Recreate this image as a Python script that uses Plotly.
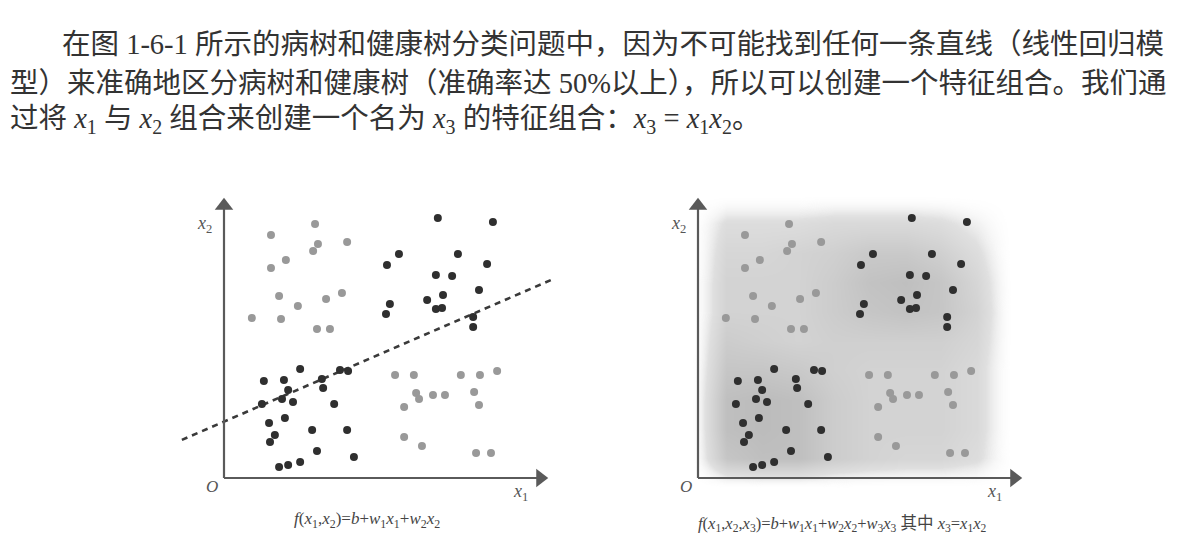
import plotly.graph_objects as go

# ---------------- data (axis units: x1 0..10, x2 0..10) ----------------
dark_x = [6.60, 8.30, 5.40, 7.22, 5.03, 8.12, 6.54, 7.04, 7.87, 6.76, 6.27, 5.12, 6.54, 6.73, 5.00, 7.69, 7.69,
          2.35, 3.58, 3.83, 1.23, 1.85, 3.02, 3.06, 1.98, 1.79, 2.13, 1.17, 3.40, 1.88, 1.39, 2.72, 3.80,
          1.57, 1.42, 2.87, 4.01, 1.70, 1.98, 2.35]
dark_y = [9.29, 9.14, 8.00, 8.00, 7.61, 7.64, 7.25, 7.21, 6.71, 6.54, 6.36, 6.21, 6.04, 6.07, 5.86, 5.75, 5.39,
          3.89, 3.86, 3.82, 3.46, 3.50, 3.54, 3.21, 3.14, 2.82, 2.71, 2.64, 2.64, 2.14, 1.96, 1.71, 1.71,
          1.54, 1.29, 0.96, 0.75, 0.39, 0.46, 0.57]
light_x = [2.81, 1.45, 2.90, 2.75, 3.80, 1.91, 1.45, 1.70, 3.15, 3.64, 2.28, 0.86, 1.76, 2.87, 3.27,
           5.28, 5.86, 7.31, 7.90, 8.43, 5.93, 6.02, 6.45, 6.82, 7.72, 7.87, 5.56, 5.56, 6.11, 7.78, 8.24]
light_y = [9.07, 8.68, 8.36, 8.11, 8.43, 7.79, 7.50, 6.50, 6.39, 6.61, 6.14, 5.71, 5.68, 5.32, 5.32,
           3.68, 3.68, 3.68, 3.68, 3.82, 3.04, 2.82, 2.96, 2.96, 3.07, 2.61, 2.54, 1.46, 1.14, 0.89, 0.89]
# linear boundary in the left panel
line_x = [-1.30, 10.09]
line_y = [1.36, 7.07]

# shaded background of the right panel (darkness 0..1)
shade_x = [-0.2, 0.9, 2.0, 3.1, 4.2, 5.3, 6.4, 7.5, 8.6, 9.7, 10.8]
shade_y = [-0.35, 0.7, 1.75, 2.8, 3.85, 4.9, 5.95, 7.0, 8.05, 9.1, 10.15]
shade_z = [
    [0, 0.00, 0.00, 0.00, 0.00, 0.00, 0.00, 0.00, 0.00, 0, 0],
    [0, 0.70, 0.80, 0.80, 0.60, 0.50, 0.45, 0.45, 0.35, 0, 0],
    [0, 0.80, 0.85, 0.80, 0.60, 0.50, 0.50, 0.50, 0.40, 0, 0],
    [0, 0.80, 0.85, 0.80, 0.60, 0.50, 0.50, 0.50, 0.40, 0, 0],
    [0, 0.70, 0.70, 0.65, 0.55, 0.50, 0.50, 0.50, 0.40, 0, 0],
    [0, 0.60, 0.55, 0.50, 0.55, 0.55, 0.55, 0.55, 0.45, 0, 0],
    [0, 0.50, 0.50, 0.50, 0.60, 0.70, 0.75, 0.70, 0.50, 0, 0],
    [0, 0.50, 0.50, 0.50, 0.60, 0.75, 0.80, 0.70, 0.45, 0, 0],
    [0, 0.45, 0.45, 0.50, 0.55, 0.65, 0.65, 0.55, 0.35, 0, 0],
    [0, 0.35, 0.35, 0.35, 0.40, 0.40, 0.40, 0.35, 0.20, 0, 0],
    [0, 0.00, 0.00, 0.00, 0.00, 0.00, 0.00, 0.00, 0.00, 0, 0],
]

# axis arrows (origin -> tip) in axis units
axis_tip_x = 10.0
axis_tip_y = 10.0

text_lines = [
    "在图 1-6-1 所示的病树和健康树分类问题中，因为不可能找到任何一条直线（线性回归模",
    "型）来准确地区分病树和健康树（准确率达 50%以上），所以可以创建一个特征组合。我们通",
    "过将 <i>x</i><sub>1</sub> 与 <i>x</i><sub>2</sub> 组合来创建一个名为 <i>x</i><sub>3</sub> 的特征组合："
    "<i>x</i><sub>3</sub> = <i>x</i><sub>1</sub><i>x</i><sub>2</sub>。",
]
caption_left = ("<i>f</i>(<i>x</i><sub>1</sub>,<i>x</i><sub>2</sub>)=<i>b</i>+<i>w</i><sub>1</sub><i>x</i><sub>1</sub>"
                "+<i>w</i><sub>2</sub><i>x</i><sub>2</sub>")
caption_right = ("<i>f</i>(<i>x</i><sub>1</sub>,<i>x</i><sub>2</sub>,<i>x</i><sub>3</sub>)=<i>b</i>+<i>w</i><sub>1</sub><i>x</i><sub>1</sub>"
                 "+<i>w</i><sub>2</sub><i>x</i><sub>2</sub>+<i>w</i><sub>3</sub><i>x</i><sub>3</sub> 其中 "
                 "<i>x</i><sub>3</sub>=<i>x</i><sub>1</sub><i>x</i><sub>2</sub>")

# ---------------- layout helpers ----------------
W, H = 1182, 557
PXU_X, PXU_Y = 32.4, 28.0
XR, YR = [-2, 11], [-1, 11]
ORIG_Y = 478


def xdom(origin_px):
    return [(origin_px + XR[0] * PXU_X) / W, (origin_px + XR[1] * PXU_X) / W]


ydom = [(H - (ORIG_Y - YR[0] * PXU_Y)) / H, (H - (ORIG_Y - YR[1] * PXU_Y)) / H]

DARK = "#2f2f2f"
LIGHT = "#999999"
AXC = "#5a5a5a"
SERIF = "Liberation Serif, DejaVu Serif, serif"
TXTF = "Liberation Serif, Noto Sans CJK SC, serif"

fig = go.Figure()

# right-panel shading
fig.add_trace(go.Heatmap(x=shade_x, y=shade_y, z=shade_z, zsmooth="best", zmin=0, zmax=1,
                         colorscale=[[0, "rgba(255,255,255,0)"], [0.3, "#e0e0e0"], [1, "#b2b2b2"]],
                         showscale=False, hoverinfo="skip", xaxis="x2", yaxis="y2"))

# left panel boundary
fig.add_trace(go.Scatter(x=line_x, y=line_y, mode="lines", hoverinfo="skip",
                         line=dict(color="#3a3a3a", width=2.6, dash="6px,5px"), xaxis="x", yaxis="y"))

for xa, ya in (("x", "y"), ("x2", "y2")):
    # axes with arrowheads
    fig.add_trace(go.Scatter(x=[0, axis_tip_x - 0.25], y=[0, 0], mode="lines", hoverinfo="skip",
                             line=dict(color=AXC, width=2.2), xaxis=xa, yaxis=ya))
    fig.add_trace(go.Scatter(x=[0, 0], y=[0, axis_tip_y - 0.3], mode="lines", hoverinfo="skip",
                             line=dict(color=AXC, width=2.2), xaxis=xa, yaxis=ya))
    fig.add_trace(go.Scatter(x=[axis_tip_x - 0.24], y=[0], mode="markers", hoverinfo="skip",
                             marker=dict(symbol="triangle-right", size=16, color=AXC, line=dict(width=0)),
                             xaxis=xa, yaxis=ya, cliponaxis=False))
    fig.add_trace(go.Scatter(x=[0], y=[axis_tip_y - 0.28], mode="markers", hoverinfo="skip",
                             marker=dict(symbol="triangle-up", size=16, color=AXC, line=dict(width=0)),
                             xaxis=xa, yaxis=ya, cliponaxis=False))
    # points
    fig.add_trace(go.Scatter(x=light_x, y=light_y, mode="markers",
                             marker=dict(color=LIGHT, size=8, line=dict(width=0)), xaxis=xa, yaxis=ya))
    fig.add_trace(go.Scatter(x=dark_x, y=dark_y, mode="markers",
                             marker=dict(color=DARK, size=8, line=dict(width=0)), xaxis=xa, yaxis=ya))

ax_common = dict(range=XR, visible=False, fixedrange=True)
ay_common = dict(range=YR, visible=False, fixedrange=True)
fig.update_layout(
    width=W, height=H, margin=dict(l=0, r=0, t=0, b=0),
    paper_bgcolor="white", plot_bgcolor="rgba(0,0,0,0)", showlegend=False,
    xaxis=dict(domain=xdom(224), anchor="y", **ax_common),
    yaxis=dict(domain=ydom, anchor="x", **ay_common),
    xaxis2=dict(domain=xdom(698), anchor="y2", **ax_common),
    yaxis2=dict(domain=ydom, anchor="x2", **ay_common),
)

annotations = []
for xa, ya in (("x", "y"), ("x2", "y2")):
    annotations.append(dict(x=9.14, y=-0.5, xref=xa, yref=ya, text="<i>x</i><sub>1</sub>", showarrow=False,
                            font=dict(family=SERIF, size=18, color="#555")))
    annotations.append(dict(x=-0.6, y=9.05, xref=xa, yref=ya, text="<i>x</i><sub>2</sub>", showarrow=False,
                            font=dict(family=SERIF, size=18, color="#555")))
    annotations.append(dict(x=-0.36, y=-0.32, xref=xa, yref=ya, text="<i>O</i>", showarrow=False,
                            font=dict(family=SERIF, size=17, color="#555")))

annotations.append(dict(x=367 / W, y=(H - 520) / H, xref="paper", yref="paper", text=caption_left,
                        xanchor="center", yanchor="middle",
                        showarrow=False, font=dict(family=TXTF, size=17, color="#444")))
annotations.append(dict(x=842 / W, y=(H - 524) / H, xref="paper", yref="paper", text=caption_right,
                        xanchor="center", yanchor="middle",
                        showarrow=False, font=dict(family=TXTF, size=16.5, color="#444")))

for (lx, ly), t in zip(((60, 45), (8, 83), (8, 120)), text_lines):
    annotations.append(dict(x=lx / W, y=(H - ly) / H, xref="paper", yref="paper", text=t, showarrow=False,
                            xanchor="left", yanchor="middle", align="left",
                            font=dict(family=TXTF, size=28.5, color="#333")))

fig.update_layout(annotations=annotations)
fig.write_html("out.html")
